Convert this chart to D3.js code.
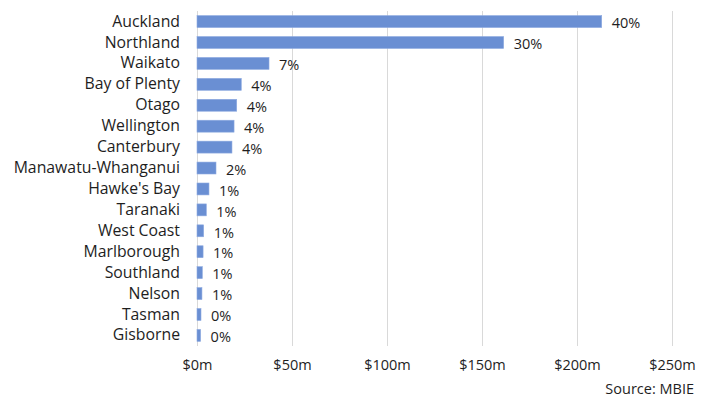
<!DOCTYPE html>
<html>
 <head>
  <meta charset="utf-8" />
  <title>Regional spend</title>
  <style>
   body, html {
    margin: 0;
    padding: 0;
    background: #fff;
    overflow: hidden;
   }
   svg text {
    font-family: "Open Sans", sans-serif;
    fill: #1e1e1e;
   }
  </style>
  <script src="https://cdnjs.cloudflare.com/ajax/libs/d3/7.9.0/d3.min.js"></script>
 </head>
 <body>
  <svg width="706" height="397"></svg>
  <script>
   // regions, spend in $m and share labels
   const regions = ["Auckland", "Northland", "Waikato", "Bay of Plenty", "Otago", "Wellington",
    "Canterbury", "Manawatu-Whanganui", "Hawke's Bay", "Taranaki", "West Coast", "Marlborough",
    "Southland", "Nelson", "Tasman", "Gisborne"];
   const spend = [213, 161.4, 37.9, 23.3, 20.9, 19.5, 18.4, 10, 6.3, 4.9, 3.5, 3.2, 2.8, 2.6, 2.1, 1.9];
   const shares = ["40%", "30%", "7%", "4%", "4%", "4%", "4%", "2%", "1%", "1%", "1%", "1%", "1%", "1%", "0%", "0%"];
   const ticks = [0, 50, 100, 150, 200, 250];

   const svg = d3.select("svg");
   const plotLeft = 197, plotRight = 672, plotTop = 11, plotBottom = 346;

   const x = d3.scaleLinear().domain([0, 250]).range([plotLeft, plotRight]);
   const y = d3.scaleBand().domain(regions).range([plotTop, plotBottom]).paddingInner(0.43).paddingOuter(0.22);

   // gridlines
   svg.append("g").selectAll("line")
    .data(ticks)
    .enter().append("line")
    .attr("x1", d => x(d) + 0.5)
    .attr("x2", d => x(d) + 0.5)
    .attr("y1", plotTop)
    .attr("y2", plotBottom)
    .attr("stroke", "#d9d9d9")
    .attr("stroke-width", 1);

   // bars
   svg.append("g").selectAll("rect")
    .data(regions)
    .enter().append("rect")
    .attr("x", x(0))
    .attr("y", d => y(d))
    .attr("width", (d, i) => x(spend[i]) - x(0))
    .attr("height", y.bandwidth())
    .attr("fill", "#6a8fd3")
    .attr("stroke", "#8eaae0")
    .attr("stroke-width", 0.6);

   // value labels
   svg.append("g").selectAll("text")
    .data(regions)
    .enter().append("text")
    .attr("x", (d, i) => x(spend[i]) + 10)
    .attr("y", d => y(d) + y.bandwidth() / 2 + 1.5)
    .attr("dy", "0.36em")
    .attr("font-size", 14.5)
    .text((d, i) => shares[i]);

   // category axis
   const yAxis = svg.append("g")
    .attr("transform", `translate(${plotLeft},0)`)
    .call(d3.axisLeft(y).tickSize(0).tickPadding(17));
   yAxis.select(".domain").remove();
   yAxis.selectAll("text").attr("font-size", 15.8).attr("fill", "#1e1e1e");

   // value axis
   const xAxis = svg.append("g")
    .attr("transform", `translate(0,${plotBottom})`)
    .call(d3.axisBottom(x).tickValues(ticks).tickSize(0).tickPadding(14).tickFormat(d => "$" + d + "m"));
   xAxis.select(".domain").remove();
   xAxis.selectAll("text").attr("font-size", 14.5).attr("fill", "#1e1e1e");

   svg.append("text")
    .attr("x", 694)
    .attr("y", 394)
    .attr("text-anchor", "end")
    .attr("font-size", 14.5)
    .text("Source: MBIE");
  </script>
 </body>
</html>
